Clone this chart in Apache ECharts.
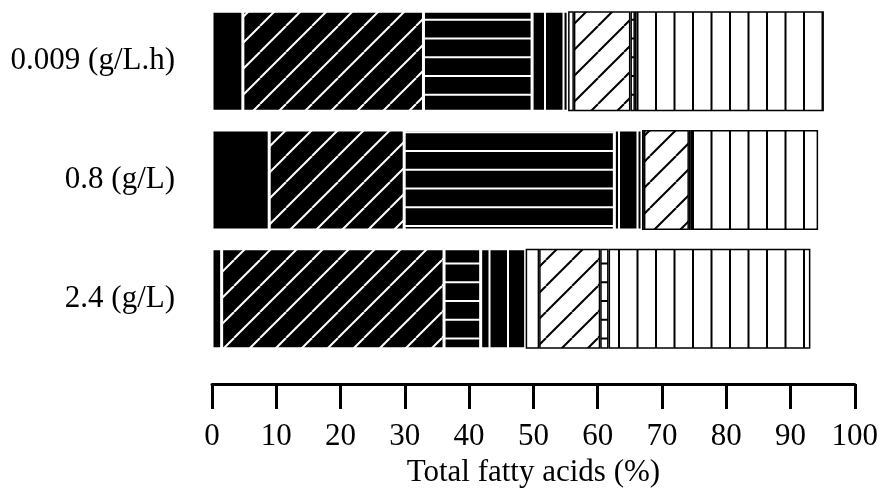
<!DOCTYPE html>
<html>
<head>
<meta charset="utf-8">
<script src="https://cdn.jsdelivr.net/npm/echarts@6/dist/echarts.min.js"></script>
<style>
html,body{margin:0;padding:0;background:#fff;}
#chart{width:881px;height:493px;}
</style>
</head>
<body>
<div id="chart"></div>
<script>
// ---- data ----
const categories = ['0.009 (g/L.h)', '0.8 (g/L)', '2.4 (g/L)'];
const blackSolid = [4.8, 8.9, 1.5];
const blackDiag  = [28.1, 21.0, 34.6];
const blackHoriz = [16.9, 32.7, 5.7];
const blackVert  = [5.6, 4.3, 7.0];
const whitePlain = [0.9, 0.3, 2.1];
const whiteDiag  = [8.8, 7.0, 9.5];
const whiteHoriz = [0.7, 0.3, 1.3];
const whiteVert  = [29.4, 19.8, 31.4];
const xTicks = { min: 0, max: 100, interval: 10 };
const xTitle = 'Total fatty acids (%)';

// ---- patterns ----
function makePattern(bg, fg, kind) {
  const c = document.createElement('canvas');
  let w, h;
  if (kind === 'diag') { w = 26; h = 26; }
  else if (kind === 'horiz') { w = 8; h = 75; }
  else if (kind === 'vert') { w = 37; h = 8; }
  else { w = 8; h = 8; }
  c.width = w; c.height = h;
  const ctx = c.getContext('2d');
  ctx.fillStyle = bg; ctx.fillRect(0, 0, w, h);
  ctx.fillStyle = fg; ctx.strokeStyle = fg; ctx.lineWidth = 2;
  if (kind === 'diag') {
    [-26, 0, 26].forEach(k => {
      ctx.beginPath(); ctx.moveTo(k, 26); ctx.lineTo(k + 26, 0); ctx.stroke();
    });
  } else if (kind === 'horiz') {
    for (let i = 0; i < 4; i++) ctx.fillRect(0, 18.75 * i, w, 2);
  } else if (kind === 'vert') {
    ctx.fillRect(7.5, 0, 2, h);
    ctx.fillRect(26, 0, 2, h);
  }
  return { image: c, repeat: 'repeat' };
}

const font = '"Liberation Serif", "Times New Roman", serif';
const mk = (name, data, bg, fg, kind) => ({
  name, type: 'bar', stack: 'total', data, barWidth: 100,
  itemStyle: {
    color: kind ? makePattern(bg, fg, kind) : bg,
    borderColor: fg, borderWidth: 1.5
  },
  emphasis: { disabled: true }
});

const chart = echarts.init(document.getElementById('chart'));
chart.setOption({
  animation: false,
  grid: { left: 212, right: 24, top: 2, height: 361 },
  xAxis: {
    type: 'value', min: xTicks.min, max: xTicks.max, interval: xTicks.interval,
    position: 'bottom', offset: 26,
    axisLine: { show: true, lineStyle: { color: '#000', width: 3 } },
    axisTick: { show: true, length: 25, lineStyle: { color: '#000', width: 3 } },
    axisLabel: { margin: 37, fontSize: 31, color: '#000', fontFamily: font },
    splitLine: { show: false },
    name: xTitle, nameLocation: 'middle', nameGap: 63,
    nameTextStyle: { fontSize: 31, color: '#000', fontFamily: font }
  },
  yAxis: {
    type: 'category', data: categories, inverse: true,
    axisLine: { show: false }, axisTick: { show: false },
    axisLabel: { margin: 37, fontSize: 31, color: '#000', fontFamily: font }
  },
  series: [
    mk('Black solid', blackSolid, '#000', '#fff', null),
    mk('Black diagonal', blackDiag, '#000', '#fff', 'diag'),
    mk('Black horizontal', blackHoriz, '#000', '#fff', 'horiz'),
    mk('Black vertical', blackVert, '#000', '#fff', 'vert'),
    mk('White plain', whitePlain, '#fff', '#000', null),
    mk('White diagonal', whiteDiag, '#fff', '#000', 'diag'),
    mk('White horizontal', whiteHoriz, '#fff', '#000', 'horiz'),
    mk('White vertical', whiteVert, '#fff', '#000', 'vert')
  ]
});
</script>
</body>
</html>
